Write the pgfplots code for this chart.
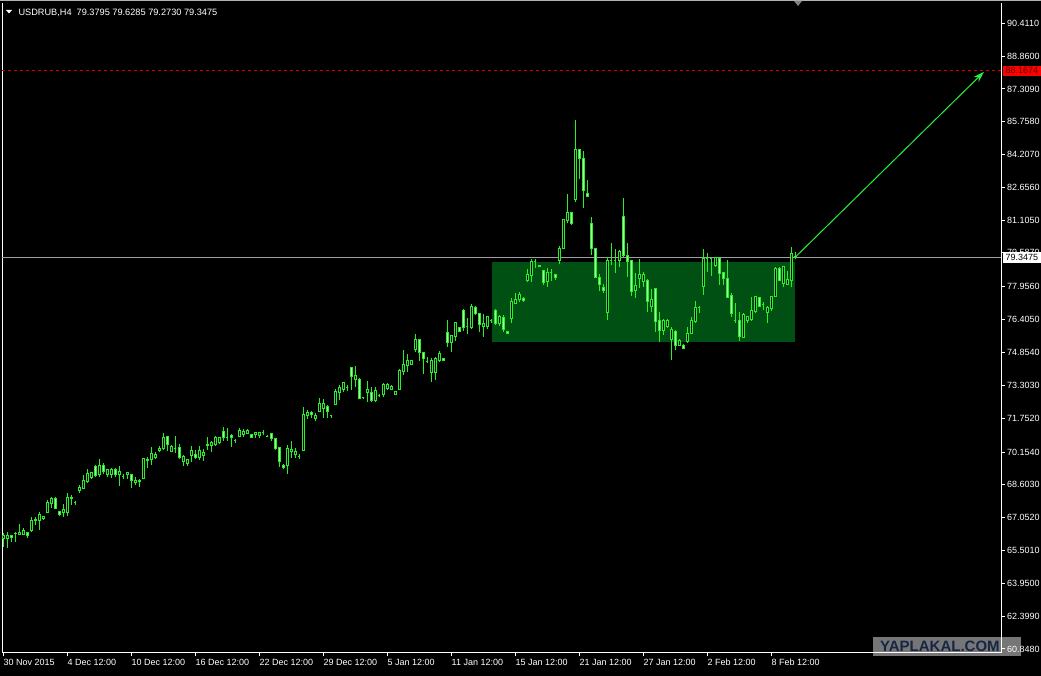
\documentclass[border=0pt]{standalone}
\usepackage{fontspec}
\setmainfont{Liberation Sans}
\usepackage{pgfplots}
\pgfplotsset{compat=1.18}
\usepackage{pgfplotstable}
\usetikzlibrary{arrows.meta}

\definecolor{candle}{RGB}{40,240,40}
\definecolor{bearfill}{RGB}{170,255,170}
\definecolor{zone}{RGB}{0,80,20}
\definecolor{arrowc}{RGB}{40,240,60}
\definecolor{wmgray}{RGB}{118,118,118}
\definecolor{wmtext}{rgb}{0.09,0.15,0.27}
\definecolor{redtxt}{rgb}{0.30,0,0}

\pgfdeclareplotmark{cbody}{%
  \pgfpathrectangle{\pgfpoint{-1pt}{0pt}}{\pgfpoint{2pt}{\bodyh pt}}%
  \pgfusepathqfillstroke}
\pgfdeclareplotmark{cwick}{%
  \pgfpathmoveto{\pgfpointorigin}%
  \pgfpathlineto{\pgfpoint{0pt}{\wickh pt}}%
  \pgfusepathqstroke}

% bull (hollow) candles
\pgfplotstableread{
x o h l c
0 66.08 66.31 65.68 66.23
1 66.05 66.39 65.61 66.23
3 66.30 66.39 65.92 66.32
4 66.28 66.76 66.23 66.35
5 66.28 66.55 66.23 66.44
7 66.44 67.10 66.39 66.94
8 66.94 67.07 66.71 66.95
9 66.91 67.34 66.47 67.21
10 66.99 67.12 66.94 67.10
11 67.29 67.89 67.26 67.76
12 67.73 68.01 67.49 67.94
15 67.29 67.70 67.10 67.42
16 67.29 68.20 67.13 68.01
18 67.76 67.86 67.65 67.76
19 68.33 68.60 68.24 68.46
20 68.44 69.07 68.39 68.79
21 68.76 69.34 68.68 69.15
22 68.96 69.23 68.87 69.18
24 69.07 69.81 68.96 69.50
26 69.10 69.34 68.99 69.31
27 69.07 69.39 68.91 69.31
29 69.07 69.50 68.57 69.23
30 69.02 69.12 68.90 69.02
31 69.07 69.23 68.88 69.18
33 68.71 68.99 68.60 68.83
35 68.91 69.86 68.87 69.83
37 69.81 70.38 69.54 70.10
38 69.89 70.16 69.81 70.06
39 70.22 70.44 70.17 70.33
40 70.33 71.07 70.25 70.85
42 70.20 70.49 70.17 70.41
43 70.33 70.93 70.09 70.33
45 69.73 70.02 69.51 69.94
46 69.62 69.81 69.51 69.78
47 69.98 70.44 69.70 70.22
49 69.90 70.44 69.78 70.22
50 69.97 70.30 69.75 70.13
51 70.47 70.88 70.25 70.50
52 70.46 70.68 70.17 70.60
53 70.53 70.93 70.46 70.85
54 70.60 70.88 70.52 70.85
56 70.85 71.29 70.69 70.85
58 70.68 70.77 70.60 70.68
59 70.91 71.28 70.88 71.16
60 70.96 71.23 70.88 71.12
61 71.05 71.23 70.99 71.16
63 70.96 71.12 70.83 71.09
64 70.93 71.12 70.83 71.09
65 71.09 71.20 70.96 71.09
66 70.90 70.96 70.85 70.90
71 69.51 70.49 69.10 70.30
72 70.17 70.68 69.86 70.28
73 70.02 70.36 69.86 70.20
74 69.94 70.05 69.83 69.94
75 70.22 72.30 70.20 71.94
76 71.90 72.14 71.72 72.03
78 71.72 71.98 71.64 71.90
79 72.06 72.69 72.03 72.46
80 72.22 72.65 71.75 72.46
82 71.89 71.90 71.78 71.89
83 72.41 73.15 72.38 73.01
84 72.98 73.32 72.61 73.20
85 73.12 73.48 73.01 73.43
86 73.20 73.31 73.05 73.20
88 73.56 74.22 73.24 73.75
90 72.72 72.77 72.68 72.72
91 72.98 73.51 72.53 73.10
93 72.58 73.24 72.50 73.05
94 72.83 72.91 72.77 72.83
95 72.88 73.40 72.74 73.35
96 73.16 73.40 73.09 73.35
97 73.12 73.31 73.09 73.24
98 72.88 73.04 72.85 73.01
99 73.10 74.06 73.09 74.00
100 73.95 74.98 73.79 74.27
101 74.24 74.77 73.95 74.50
102 74.31 74.50 74.28 74.47
103 74.98 75.73 74.90 75.45
106 74.42 74.63 74.38 74.42
107 73.90 74.58 73.48 74.50
108 73.90 74.66 73.56 74.58
109 74.50 74.93 74.42 74.79
112 75.32 75.68 74.90 75.65
113 75.61 76.32 75.42 76.27
116 76.08 76.47 75.73 76.08
117 76.03 77.15 75.97 77.02
120 76.08 76.68 75.61 76.24
121 76.08 76.58 75.98 76.55
122 76.36 76.42 76.27 76.36
124 76.24 76.63 76.11 76.55
127 76.44 77.42 76.24 77.26
128 77.18 77.68 77.15 77.37
129 77.34 77.73 77.26 77.62
131 78.28 78.79 78.20 78.52
132 78.49 79.26 78.20 79.15
133 79.15 79.26 78.83 79.15
136 78.20 78.83 77.94 78.64
137 78.64 78.79 78.25 78.64
139 79.20 79.89 79.04 79.78
140 79.78 81.15 79.73 81.12
141 81.09 82.35 80.96 81.48
143 82.09 85.84 81.98 84.43
151 76.74 79.35 76.39 79.18
152 79.20 80.02 78.99 79.20
153 79.20 79.73 78.63 79.20
154 79.20 79.70 78.91 79.62
158 77.78 78.60 77.45 78.00
159 78.36 79.26 77.89 78.52
160 78.20 78.68 77.97 78.55
162 77.05 77.84 76.79 77.34
165 75.89 76.42 75.68 76.39
166 76.08 76.42 76.03 76.35
167 75.48 76.05 74.50 75.92
169 75.21 75.48 75.16 75.40
171 75.37 76.05 75.29 75.76
172 75.76 76.55 75.73 76.39
173 76.31 77.31 76.27 76.99
174 76.99 77.05 76.71 76.99
175 77.97 79.73 77.57 79.31
176 79.31 79.54 78.68 79.31
177 79.29 79.35 78.47 79.29
178 78.96 79.39 78.91 79.35
183 76.35 77.18 76.27 76.35
185 75.57 76.71 75.53 76.63
186 76.36 76.58 76.27 76.55
187 76.42 77.50 76.36 76.82
188 76.79 77.53 76.74 77.50
190 77.13 77.26 76.87 77.13
191 76.75 77.05 76.27 76.97
192 76.94 77.53 76.83 77.50
193 77.50 78.91 77.46 78.83
195 78.13 78.94 77.97 78.91
196 78.08 78.72 78.05 78.31
197 78.28 79.83 77.97 79.54
}\bull

% bear (filled) candles
\pgfplotstableread{
x o h l c
2 66.23 66.25 65.92 66.13
6 66.35 66.39 66.08 66.19
13 67.94 68.05 67.45 67.49
14 67.34 67.39 67.15 67.21
17 68.02 68.13 67.65 67.96
23 69.46 69.53 68.96 69.04
25 69.50 69.62 69.12 69.23
28 69.31 69.39 68.96 69.07
32 69.07 69.12 68.44 68.80
34 68.83 68.87 68.52 68.77
36 69.81 69.91 69.39 69.75
41 70.88 70.93 70.20 70.52
44 70.36 70.52 69.83 69.89
48 70.06 70.25 69.83 69.90
55 71.12 71.32 70.69 70.85
57 70.93 70.99 70.41 70.83
62 70.96 70.98 70.80 70.85
67 71.01 71.04 70.69 70.77
68 70.80 70.83 70.24 70.30
69 70.36 70.41 69.46 69.73
70 69.54 69.57 69.35 69.42
77 72.03 72.09 71.78 71.94
81 72.30 72.38 71.75 72.06
87 74.15 74.19 73.09 73.71
89 73.59 73.64 72.68 72.69
92 72.96 73.24 72.53 72.58
104 75.45 75.48 74.47 74.87
105 74.87 74.90 73.84 74.58
110 74.58 74.59 74.47 74.50
111 75.79 76.39 75.13 75.32
114 76.03 76.08 75.84 75.87
115 76.83 76.90 75.89 76.05
118 76.99 77.06 76.63 76.68
119 76.68 76.74 75.84 76.16
123 76.83 76.90 76.16 76.24
125 76.52 76.63 75.84 75.95
126 75.84 75.89 75.73 75.76
130 77.42 77.50 77.26 77.31
134 78.99 79.00 78.92 78.93
135 78.72 78.76 78.05 78.17
138 78.52 78.57 78.30 78.39
142 81.48 81.51 80.88 80.93
144 84.43 84.46 83.04 84.00
145 84.00 84.38 81.70 82.49
146 82.35 83.01 82.19 82.22
147 80.96 81.24 79.46 79.78
148 79.78 79.81 78.36 78.41
149 78.41 78.57 77.78 78.09
150 77.94 78.09 77.68 77.78
155 81.27 82.14 79.31 79.46
156 79.46 80.02 78.44 79.15
157 79.18 79.23 77.53 77.73
161 78.24 78.31 76.79 77.26
163 77.86 77.89 75.84 76.31
164 76.36 76.79 75.37 75.89
168 75.84 75.92 74.97 75.21
170 75.18 75.26 75.02 75.05
179 79.31 79.35 78.05 78.60
180 78.63 78.68 78.05 78.33
181 78.36 79.23 77.42 77.46
182 77.53 77.65 76.52 76.68
184 76.35 76.79 75.42 75.60
189 77.46 77.50 77.02 77.05
194 78.83 78.88 78.25 78.28
198 79.3795 79.6285 79.2730 79.3475
}\bear

\begin{document}
\begin{tikzpicture}
\fill[black] (-2pt,-23pt) rectangle (1039pt,653pt);
\fill[gray!60] (-2pt,652pt) rectangle (1039pt,653pt);
% watermark box (behind the axis labels)
\fill[wmgray] (871pt,-3pt) rectangle (1019pt,16pt);
\begin{axis}[
  at={(0pt,0pt)}, anchor=south west,
  scale only axis, width=999pt, height=650pt,
  xmin=-0.25, xmax=249.5, ymin=60.659, ymax=91.370,
  clip=false,
  axis line style={draw=none},
  xtick={0,16,32,48,64,80,96,112,128,144,160,176,192},
  xticklabels={30 Nov 2015,4 Dec 12:00,10 Dec 12:00,16 Dec 12:00,22 Dec 12:00,29 Dec 12:00,5 Jan 12:00,11 Jan 12:00,15 Jan 12:00,21 Jan 12:00,27 Jan 12:00,2 Feb 12:00,8 Feb 12:00},
  ytick={90.411,88.86,87.309,85.758,84.207,82.656,81.105,79.587,77.956,76.405,74.854,73.303,71.752,70.154,68.603,67.052,65.501,63.95,62.399,60.848},
  yticklabels={90.4110,88.8600,87.3090,85.7580,84.2070,82.6560,81.1050,79.5870,77.9560,76.4050,74.8540,73.3030,71.7520,70.1540,68.6030,67.0520,65.5010,63.9500,62.3990,60.8480},
  xtick pos=left, ytick pos=right,
  xticklabel pos=left, yticklabel pos=right,
  tick align=outside, major tick length=3.5pt,
  tick style={white, line width=1pt},
  tick label style={font=\fontsize{9}{10}\selectfont, text=white},
  xticklabel style={anchor=north west, inner sep=0pt, yshift=-2.5pt, xshift=0.5pt},
  yticklabel style={anchor=west, inner sep=0pt, xshift=2.5pt},
]
% frame
\draw[white, line width=1pt] (rel axis cs:0,1) -- (rel axis cs:0,0) -- (rel axis cs:1,0) -- (rel axis cs:1,1);
% zone
\addplot[fill=zone, draw=none] coordinates {(122.25,75.354) (198,75.354) (198,79.134) (122.25,79.134)} -- cycle;
% bid line and target line
\addplot[gray!75, line width=1pt] coordinates {(-0.25,79.3475) (249.5,79.3475)};
\addplot[red!85!black, line width=1pt, dash pattern=on 3pt off 3pt] coordinates {(-0.25,88.1674) (249.5,88.1674)};
% wicks
\addplot[only marks, mark=cwick, mark options={draw=candle, line width=1pt},
  visualization depends on={21.165*(\thisrow{h}-\thisrow{l}) \as \wickh}]
  table[x=x, y=l] {\bull};
\addplot[only marks, mark=cwick, mark options={draw=candle, line width=1pt},
  visualization depends on={21.165*(\thisrow{h}-\thisrow{l}) \as \wickh}]
  table[x=x, y=l] {\bear};
% bodies
\addplot[only marks, mark=cbody, mark options={draw=candle, fill=black, line width=1pt},
  visualization depends on={21.165*(\thisrow{c}-\thisrow{o}) \as \bodyh}]
  table[x=x, y=o] {\bull};
\addplot[only marks, mark=cbody, mark options={draw=candle, fill=bearfill, line width=1pt},
  visualization depends on={21.165*(\thisrow{c}-\thisrow{o}) \as \bodyh}]
  table[x=x, y=o] {\bear};
% arrow
\addplot[arrowc, line width=1pt, -{Stealth[length=11pt,width=7pt]}] coordinates {(198,79.3475) (245.25,88.12)};
% price labels
\node[anchor=west, xshift=2pt, fill=red, inner sep=0pt, minimum width=37.5pt, minimum height=10.5pt, font=\fontsize{9}{10}\selectfont] at (axis cs:249.5,88.1674) {\color{redtxt}88.1674};
\node[anchor=west, xshift=2pt, fill=white, inner sep=0pt, minimum width=37.5pt, minimum height=11pt, font=\fontsize{9}{10}\selectfont] at (axis cs:249.5,79.3475) {\color{black}79.3475};
\end{axis}
% title
\fill[white] (4pt,643pt) -- (10pt,643pt) -- (7pt,639.5pt) -- cycle;
\node[anchor=base west, inner sep=0pt, text=white, font=\fontsize{9.2}{10}\selectfont] at (16.3pt,637pt) {USDRUB,H4\hspace{5pt}79.3795 79.6285 79.2730 79.3475};
% shift marker
\fill[gray] (792pt,652pt) -- (800pt,652pt) -- (796pt,647pt) -- cycle;
% watermark text
\node[anchor=base west, inner sep=0pt, text=wmtext, font=\bfseries\fontsize{15}{16}\selectfont] at (878pt,1.5pt) {YAPLAKAL.COM};
\pgfresetboundingbox
\path[use as bounding box] (-2pt,-23pt) rectangle (1039pt,653pt);
\end{tikzpicture}
\end{document}
